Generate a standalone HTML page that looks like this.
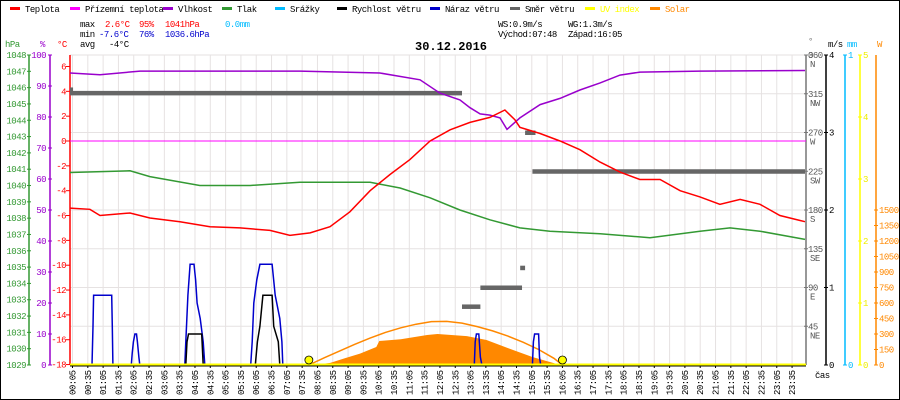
<!DOCTYPE html>
<html><head><meta charset="utf-8"><style>
body{margin:0;background:#fff}
svg{display:block;font-family:"Liberation Mono",monospace;font-size:9px;letter-spacing:-0.5px}
</style></head><body>
<svg id="c" width="900" height="400" viewBox="0 0 900 400">
<rect x="0.5" y="0.5" width="899" height="399" fill="#fff" stroke="#000"/>
<g id="grid"></g>
<g id="legend"></g>
<g>
<text x="80" y="27">max</text><text x="105" y="27" fill="#f00">2.6°C</text><text x="139" y="27" fill="#f00">95%</text><text x="165" y="27" fill="#f00">1041hPa</text><text x="225" y="27" fill="#0bf">0.0mm</text>
<text x="80" y="37">min</text><text x="99" y="37" fill="#00c">-7.6°C</text><text x="139" y="37" fill="#00c">76%</text><text x="165" y="37" fill="#00c">1036.6hPa</text>
<text x="80" y="47">avg</text><text x="109" y="47">-4°C</text>
<text x="498" y="27">WS:0.9m/s</text><text x="568" y="27">WG:1.3m/s</text>
<text x="498" y="37">Východ:07:48</text><text x="568" y="37">Západ:16:05</text>
</g>
<text x="415" y="50" font-size="12" font-weight="bold" letter-spacing="0">30.12.2016</text>
<g id="axes"></g>
<g id="series"></g>
</svg>
<script>
const legendLabels=["Teplota","Přízemní teplota","Vlhkost","Tlak","Srážky","Rychlost větru","Náraz větru","Směr větru","UV index","Solar"];
const legendColors=["#f00","#f0f","#90c","#393","#0bf","#000","#00c","#666","#ff0","#f80"];
const legendX=[10,70,163,222,275,337,430,510,585,650];
const tempT=[0,0.65,0.98,1.96,2.61,3.59,4.57,5.55,6.53,7.18,7.84,8.49,9.14,9.8,10.45,11.1,11.76,12.41,13.06,13.71,14.2,14.53,14.69,15.35,16,16.65,17.31,17.96,18.61,19.27,19.92,20.57,21.22,21.88,22.53,23.18,23.84,24];
const tempV=[-5.4,-5.5,-6,-5.8,-6.2,-6.5,-6.9,-7,-7.2,-7.6,-7.4,-6.9,-5.7,-4,-2.7,-1.5,0,0.9,1.5,1.9,2.5,1.7,1.1,0.6,0,-0.7,-1.7,-2.5,-3.1,-3.1,-4,-4.5,-5.1,-4.7,-5.1,-6,-6.4,-6.5];
const humT=[0,0.98,2.29,7.51,10.12,11.43,12.08,12.73,13.06,13.39,13.71,14.04,14.27,14.69,15.35,16,16.65,17.31,17.96,18.61,20.57,24];
const humV=[94.2,93.6,94.8,94.8,94.2,92,87.7,85.5,83,81,80.6,79.7,76,79.7,84,86,88.7,91,93.5,94.5,94.8,95];
const presT=[0,1.96,2.61,4.24,5.88,7.51,8.82,9.8,10.78,11.76,12.73,13.71,14.69,15.67,17.31,18.94,20.57,21.55,22.53,24];
const presV=[1040.8,1040.9,1040.55,1040,1040,1040.2,1040.2,1040.2,1039.85,1039.25,1038.5,1037.9,1037.4,1037.2,1037.05,1036.8,1037.2,1037.4,1037.2,1036.7];
const dirStart=[0,0,12.8,13.4,14.7,14.86,15.1];
const dirEnd=[0.1,12.8,13.4,14.76,14.86,15.2,24];
const dirV=[320,316,68,90,113,270,225];
const gustT=[0,0.72,0.75,0.77,1.36,1.38,1.4,2.0,2.03,2.07,2.12,2.17,2.2,2.25,2.28,3.75,3.78,3.85,3.92,4.05,4.1,4.15,4.25,4.35,4.4,5.9,5.95,6.0,6.1,6.2,6.6,6.7,6.85,6.92,6.95,13.2,13.23,13.27,13.35,13.4,13.45,15.1,15.13,15.17,15.3,15.33,15.37,24];
const gustV=[0,0,0.5,0.9,0.9,0.5,0,0,0.15,0.3,0.4,0.4,0.3,0.1,0,0,0.3,0.9,1.3,1.3,1.1,0.8,0.6,0.3,0,0,0.3,0.8,1.1,1.3,1.3,0.9,0.6,0.3,0,0,0.3,0.4,0.4,0.1,0,0,0.3,0.4,0.4,0.1,0,0];
const windT=[0,3.78,3.82,3.87,4.3,4.35,6.05,6.12,6.2,6.3,6.6,6.65,6.8,6.85,24];
const windV=[0,0,0.3,0.4,0.4,0,0,0.3,0.5,0.9,0.9,0.5,0.3,0,0];
const solarT=[7.93,8.5,9.0,9.47,10.0,10.1,10.8,11.66,12.0,12.96,13.6,14.47,15.1,15.77,16.0];
const solarV=[0,20,68,110,174,232,250,290,300,280,242,145,77,20,0];
const clearT=[7.8,8.3,8.8,9.3,9.8,10.3,10.8,11.3,11.8,12.3,12.8,13.3,13.8,14.3,14.8,15.3,15.8,16.08];
const clearV=[0,70,135,200,260,315,360,395,420,422,405,372,330,280,220,150,65,0];
const sunT=[7.8,16.08];
const hpaTicks=[1029,1030,1031,1032,1033,1034,1035,1036,1037,1038,1039,1040,1041,1042,1043,1044,1045,1046,1047,1048];
const humTicks=[0,10,20,30,40,50,60,70,80,90,100];
const tempTicks=[-18,-16,-14,-12,-10,-8,-6,-4,-2,0,2,4,6];
const dirTicks=[45,90,135,180,225,270,315,360];
const dirNames=["NE","E","SE","S","SW","W","NW","N"];
const msTicks=[0,1,2,3,4];
const uvTicks=[0,1,2,3,4,5];
const wTicks=[0,150,300,450,600,750,900,1050,1200,1350,1500];
const timeLabels=[];for(let h=0;h<24;h++){const hh=(h<10?"0":"")+h;timeLabels.push(hh+":05",hh+":35");}

const NS="http://www.w3.org/2000/svg";
const xT=h=>70+h*30.625;
const yC=c=>141-c*12.42;
const yH=p=>365-p*3.1;
const yP=p=>365-(p-1029)*16.316;
const yD=d=>365-d*310/360;
const yV=v=>365-v*77.5;
const yW=w=>365-w*155/1500;
const yU=u=>365-u*62;
function el(tag,attrs,parent,txt){const e=document.createElementNS(NS,tag);for(const k in attrs)e.setAttribute(k,attrs[k]);if(txt!==undefined)e.textContent=txt;parent.appendChild(e);return e;}
const G=document.getElementById('grid'),A=document.getElementById('axes'),S=document.getElementById('series'),L=document.getElementById('legend');
for(let i=0;i<48;i++){const x=72.5+15.31*i;const l=el('line',{x1:x,y1:55,x2:x,y2:365,stroke:'#e6e2e2'},G);


el('line',{x1:x,y1:365,x2:x,y2:368,stroke:'#000'},A);
const t=el('text',{x:0,y:0,transform:`translate(${x+3},395) rotate(-90)`},A,timeLabels[i]);

}
for(let k=0;k<8;k++){const y=55+38.75*k;const l=el('line',{x1:70,y1:y,x2:806,y2:y,stroke:'#e6e2e2'},G);

}
legendLabels.forEach((n,i)=>{const g=el('g',{},L);


el('rect',{x:legendX[i],y:7,width:10,height:3,fill:legendColors[i]},g);
el('text',{x:legendX[i]+15,y:12,fill:(i>=8?legendColors[i]:'#000')},g,n);});
function vline(x,c){el('line',{x1:x,y1:55,x2:x,y2:365,stroke:c,'stroke-width':1.5},A);}
vline(29,'#393');vline(50,'#90c');vline(70,'#f00');vline(806,'#777');vline(826,'#000');vline(845,'#0bf');vline(860,'#ff0');vline(876,'#f80');
el('text',{x:5,y:47,fill:'#393'},A,'hPa');el('text',{x:40,y:47,fill:'#90c'},A,'%');el('text',{x:57,y:47,fill:'#f00'},A,'°C');
el('text',{x:808,y:44,fill:'#777'},A,'°');el('text',{x:828,y:47},A,'m/s');el('text',{x:847,y:47,fill:'#0bf'},A,'mm');el('text',{x:877,y:47,fill:'#f80'},A,'W');
el('text',{x:815,y:378},A,'čas');
hpaTicks.forEach(v=>{const y=yP(v);el('line',{x1:27,y1:y,x2:31,y2:y,stroke:'#393'},A);const t=el('text',{x:26,y:y+3,fill:'#393','text-anchor':'end'},A,v);

});
humTicks.forEach(v=>{const y=yH(v);el('line',{x1:48,y1:y,x2:52,y2:y,stroke:'#90c'},A);el('text',{x:46,y:y+3,fill:'#90c','text-anchor':'end'},A,v);});
tempTicks.forEach(v=>{const y=yC(v);el('line',{x1:66,y1:y,x2:70,y2:y,stroke:'#f00'},A);el('text',{x:66,y:y+3,fill:'#f00','text-anchor':'end'},A,v);});
el('text',{x:808,y:58,fill:'#555'},A,'0');
dirTicks.forEach((v,i)=>{const y=yD(v);el('line',{x1:804,y1:y,x2:808,y2:y,stroke:'#777'},A);el('text',{x:808,y:y+3,fill:'#555'},A,v);el('text',{x:810,y:y+12,fill:'#555'},A,dirNames[i]);});
msTicks.forEach(v=>{const y=yV(v);el('line',{x1:824,y1:y,x2:828,y2:y,stroke:'#000'},A);el('text',{x:829,y:y+3},A,v);});
[0,1].forEach(v=>{const y=365-v*310;el('line',{x1:843,y1:y,x2:847,y2:y,stroke:'#0bf'},A);el('text',{x:848,y:y+3,fill:'#0bf'},A,v);});
uvTicks.forEach(v=>{const y=yU(v);el('line',{x1:858,y1:y,x2:862,y2:y,stroke:'#ff0'},A);el('text',{x:863,y:y+3,fill:'#ee0'},A,v);});
wTicks.forEach(v=>{const y=yW(v);el('line',{x1:874,y1:y,x2:878,y2:y,stroke:'#f80'},A);el('text',{x:879,y:y+3,fill:'#f80'},A,v);});
function pts(T,V,fy){return T.map((t,i)=>xT(t).toFixed(1)+','+fy(V[i]).toFixed(1)).join(' ');}
function poly(T,V,fy,c,name,w){const p=el('polyline',{points:pts(T,V,fy),fill:'none',stroke:c,'stroke-width':w||1.5},S);

return p;}
const sa=el('polygon',{points:pts(solarT,solarV,yW),fill:'#f80'},S);


poly(clearT,clearV,yW,'#f80','solar-clear-sky',1.5);
const zl=el('line',{x1:70,y1:yC(0),x2:806,y2:yC(0),stroke:'#f0f'},S);


dirV.forEach((d,i)=>{const r=el('rect',{x:xT(dirStart[i]),y:yD(d)-2,width:xT(dirEnd[i])-xT(dirStart[i]),height:4.5,fill:'#666'},S);

});
poly(presT,presV,yP,'#393','pressure-line');
poly(humT,humV,yH,'#90c','humidity-line');
poly(tempT,tempV,yC,'#f00','temperature-line');
poly(gustT,gustV,yV,'#00c','gust-line');
poly(windT,windV,yV,'#000','wind-speed-line');
const uv=el('line',{x1:70,y1:364.5,x2:806,y2:364.5,stroke:'#ff0','stroke-width':2},S);


el('line',{x1:70,y1:366,x2:806,y2:366,stroke:'#000'},S);
sunT.forEach(t=>{const c=el('circle',{cx:xT(t),cy:360,r:4,fill:'#ff0',stroke:'#000','stroke-width':0.8},S);

});
</script>
</body></html>
